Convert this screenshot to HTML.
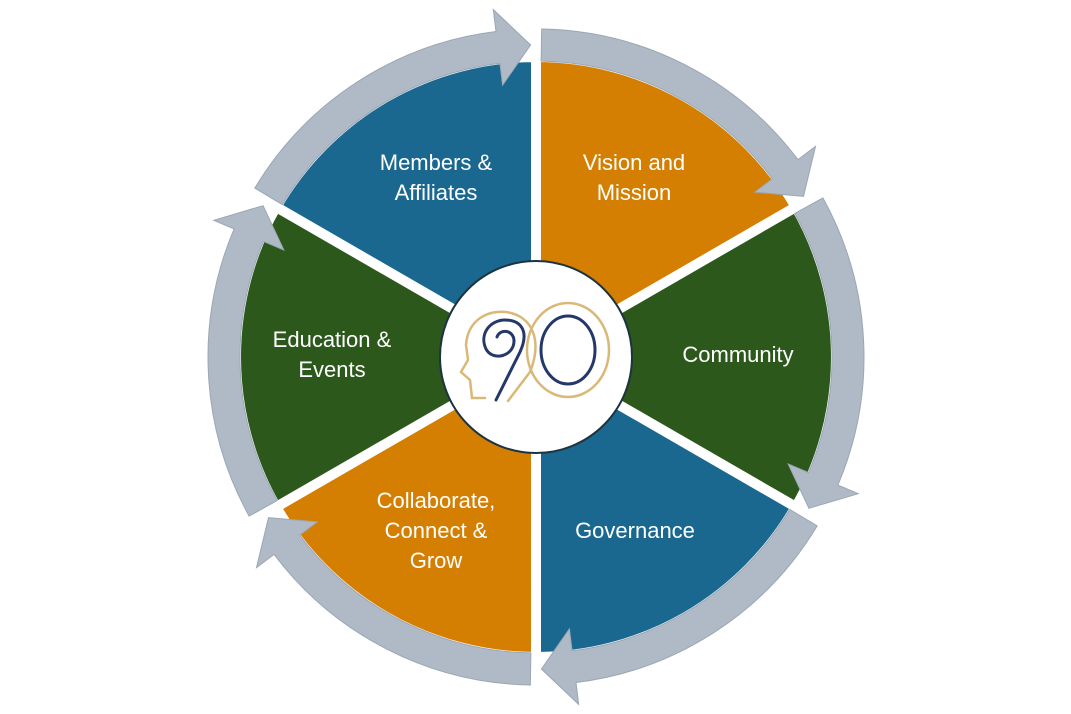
<!DOCTYPE html>
<html><head><meta charset="utf-8"><style>
html,body{margin:0;padding:0;background:#fff;width:1071px;height:714px;overflow:hidden}
svg{display:block}
text{font-family:"Liberation Sans",sans-serif;fill:#fff;font-size:22px;text-anchor:middle}
</style></head><body>
<svg width="1071" height="714" viewBox="0 0 1071 714">
<g transform="translate(536,357)" stroke="#fff" stroke-width="10">
<path d="M0,0 L-259.8,-150 A300,300 0 0 1 0,-300 Z" fill="#1a6890"/>
<path transform="rotate(60)" d="M0,0 L-259.8,-150 A300,300 0 0 1 0,-300 Z" fill="#d47f02"/>
<path transform="rotate(120)" d="M0,0 L-259.8,-150 A300,300 0 0 1 0,-300 Z" fill="#2c581c"/>
<path transform="rotate(180)" d="M0,0 L-259.8,-150 A300,300 0 0 1 0,-300 Z" fill="#1a6890"/>
<path transform="rotate(240)" d="M0,0 L-259.8,-150 A300,300 0 0 1 0,-300 Z" fill="#d47f02"/>
<path transform="rotate(300)" d="M0,0 L-259.8,-150 A300,300 0 0 1 0,-300 Z" fill="#2c581c"/>
</g>
<g transform="translate(536,357)" fill="#afbac6" stroke="#9aa7b4" stroke-width="1">
<path d="M-281.2,-168.9 A328,328 0 0 1 -40,-325.5 L-42.7,-347.4 L-5.4,-312 L-33.4,-271.9 L-36.1,-293.8 A296,296 0 0 0 -253.7,-152.4 Z"/>
<path transform="rotate(60)" d="M-281.2,-168.9 A328,328 0 0 1 -40,-325.5 L-42.7,-347.4 L-5.4,-312 L-33.4,-271.9 L-36.1,-293.8 A296,296 0 0 0 -253.7,-152.4 Z"/>
<path transform="rotate(120)" d="M-281.2,-168.9 A328,328 0 0 1 -40,-325.5 L-42.7,-347.4 L-5.4,-312 L-33.4,-271.9 L-36.1,-293.8 A296,296 0 0 0 -253.7,-152.4 Z"/>
<path transform="rotate(180)" d="M-281.2,-168.9 A328,328 0 0 1 -40,-325.5 L-42.7,-347.4 L-5.4,-312 L-33.4,-271.9 L-36.1,-293.8 A296,296 0 0 0 -253.7,-152.4 Z"/>
<path transform="rotate(240)" d="M-281.2,-168.9 A328,328 0 0 1 -40,-325.5 L-42.7,-347.4 L-5.4,-312 L-33.4,-271.9 L-36.1,-293.8 A296,296 0 0 0 -253.7,-152.4 Z"/>
<path transform="rotate(300)" d="M-281.2,-168.9 A328,328 0 0 1 -40,-325.5 L-42.7,-347.4 L-5.4,-312 L-33.4,-271.9 L-36.1,-293.8 A296,296 0 0 0 -253.7,-152.4 Z"/>
</g>
<circle cx="536" cy="357" r="96" fill="#fff" stroke="#1c3340" stroke-width="2"/>
<g fill="none" stroke-linecap="round">
<ellipse cx="568" cy="350" rx="41" ry="47" stroke="#d9b878" stroke-width="2.5"/>
<ellipse cx="568" cy="350" rx="27" ry="34" stroke="#24386a" stroke-width="3"/>
<path d="M485,398 L472,398 L470,380 L461,372 L468,360 L466,345 C468,318 490,310 506,312 C534,316 542,342 530,372 L508,401" stroke="#d9b878" stroke-width="2.5"/>
<path d="M496,400 L520,352 C530,330 520,320 505,320 C490,320 479,334 486,349 C493,362 514,356 514,341 C514,330 500,328 497,337" stroke="#24386a" stroke-width="3"/>
</g>
<text x="436" y="170">Members &amp;</text>
<text x="436" y="200">Affiliates</text>
<text x="634" y="170">Vision  and</text>
<text x="634" y="200">Mission</text>
<text x="738" y="362">Community</text>
<text x="635" y="538">Governance</text>
<text x="436" y="508">Collaborate,</text>
<text x="436" y="538">Connect &amp;</text>
<text x="436" y="568">Grow</text>
<text x="332" y="347">Education &amp;</text>
<text x="332" y="377">Events</text>
</svg>
</body></html>
